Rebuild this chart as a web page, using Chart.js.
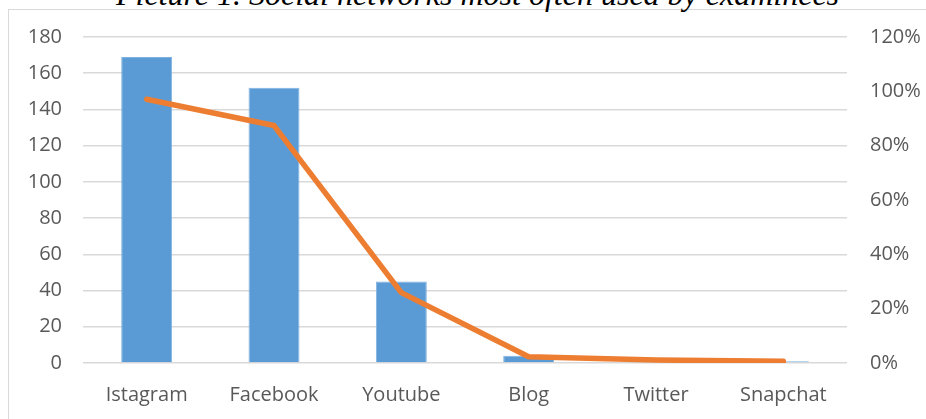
<!DOCTYPE html>
<html>
<head>
<meta charset="utf-8">
<script src="https://cdn.jsdelivr.net/npm/chart.js@4.4.0/dist/chart.umd.min.js"></script>
<style>
	body { margin: 0; background: #fff; overflow: hidden; }
	#wrap { position: relative; width: 926px; height: 419px; overflow: hidden; }
	#frame { position: absolute; left: 8px; top: 9px; width: 940px; height: 430px; border-left: 1px solid #d9d9d9; border-top: 1px solid #d9d9d9; }
	#title { position: absolute; left: 0; width: 955px; text-align: center; top: -22px; line-height: 32px;
		font-family: "Liberation Serif", serif; font-style: italic; font-size: 32px; color: #000; white-space: nowrap; }
	#myChart { position: absolute; left: 0; top: 0; }
</style>
</head>
<body>
<div id="wrap">
	<div id="frame"></div>
	<div id="title">Picture 1. Social networks most often used by examinees</div>
	<canvas id="myChart" width="926" height="419"></canvas>
</div>
<script>
// data
var categories = ['Istagram', 'Facebook', 'Youtube', 'Blog', 'Twitter', 'Snapchat'];
var counts = [169, 152, 45, 4, 2, 1];
var shares = [0.971, 0.874, 0.259, 0.023, 0.011, 0.006];
var leftTicks = [0, 20, 40, 60, 80, 100, 120, 140, 160, 180];
var rightTicks = [0, 0.2, 0.4, 0.6, 0.8, 1.0, 1.2];

var tickFont = { family: '"Open Sans", "Liberation Sans", sans-serif', size: 20 };
var tickColor = '#595959';

var _config = {
	type: 'bar',
	data: {
		labels: categories,
		datasets: [
			{
				type: 'line',
				data: shares,
				yAxisID: 'y2',
				borderColor: '#ED7D31',
				backgroundColor: '#ED7D31',
				borderWidth: 5.5,
				borderCapStyle: 'round',
				borderJoinStyle: 'round',
				pointRadius: 0,
				tension: 0,
				order: 0
			},
			{
				type: 'bar',
				data: counts,
				yAxisID: 'y',
				backgroundColor: '#5B9BD5',
				borderColor: '#7FB2E0',
				borderWidth: 1,
				categoryPercentage: 1,
				barPercentage: 0.4,
				order: 1
			}
		]
	},
	options: {
		responsive: false,
		animation: false,
		layout: { padding: { top: 37, left: 0, right: 0, bottom: 0 } },
		plugins: {
			legend: { display: false },
			tooltip: { enabled: false }
		},
		scales: {
			x: {
				grid: { display: false },
				border: { display: false },
				ticks: { color: tickColor, font: tickFont, padding: 12, maxRotation: 0 },
				afterFit: function(scale) { scale.height = 56; }
			},
			y: {
				position: 'left',
				min: 0,
				max: 180,
				afterBuildTicks: function(scale) {
					scale.ticks = leftTicks.map(function(v) { return { value: v }; });
				},
				grid: { color: '#d9d9d9', lineWidth: 1.5, drawTicks: false },
				border: { display: false },
				ticks: { color: tickColor, font: tickFont, padding: 21 },
				afterFit: function(scale) { scale.width = 83; }
			},
			y2: {
				position: 'right',
				min: 0,
				max: 1.2,
				afterBuildTicks: function(scale) {
					scale.ticks = rightTicks.map(function(v) { return { value: v }; });
				},
				grid: { display: false, drawTicks: false },
				border: { display: false },
				ticks: {
					color: tickColor, font: tickFont, padding: 23,
					callback: function(value) { return Math.round(value * 100) + '%'; }
				},
				afterFit: function(scale) { scale.width = 79; }
			}
		}
	}
};

var myChart = new Chart(document.getElementById('myChart'), _config);
</script>
</body>
</html>
